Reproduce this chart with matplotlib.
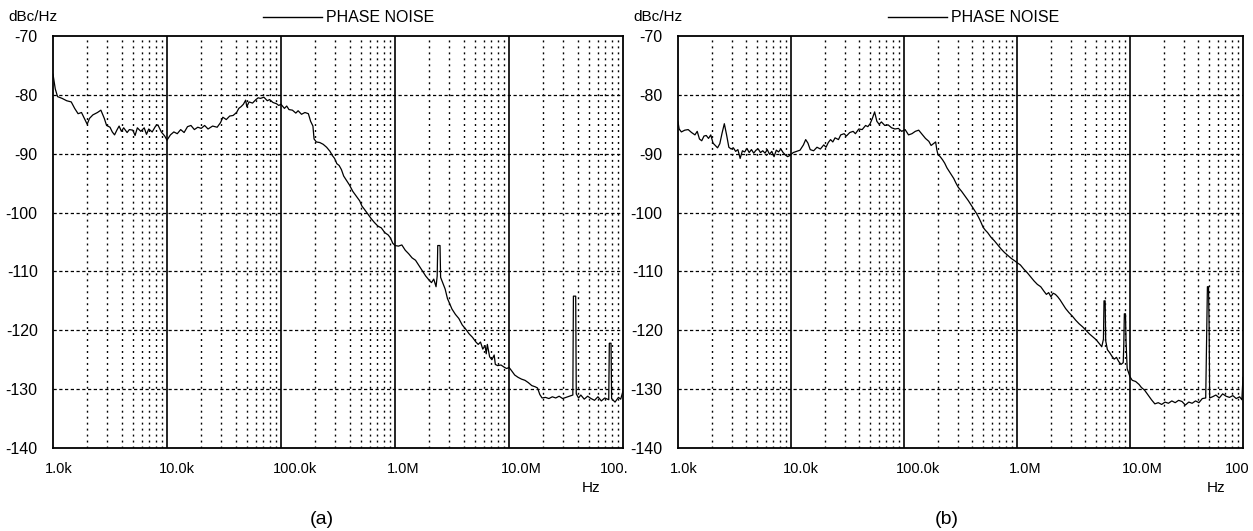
import numpy as np
import matplotlib.pyplot as plt
from matplotlib.lines import Line2D
from matplotlib.ticker import NullLocator
from matplotlib.transforms import offset_copy

plt.rcParams['font.family'] = ['Liberation Sans', 'DejaVu Sans']

# frequency as log10(Hz), noise in dBc/Hz
logf_a = [3.00, 3.02, 3.04, 3.08, 3.12, 3.16, 3.19, 3.22, 3.25, 3.28, 3.30, 3.32, 3.35, 3.39,
          3.42, 3.45, 3.47, 3.50, 3.52, 3.54, 3.56, 3.58, 3.60, 3.62, 3.65, 3.67, 3.70, 3.72,
          3.74, 3.77, 3.80, 3.82, 3.84, 3.87, 3.90, 3.92, 3.95, 3.98, 4.00, 4.03, 4.06, 4.09,
          4.12, 4.15, 4.18, 4.21, 4.24, 4.27, 4.30, 4.33, 4.36, 4.40, 4.44, 4.47, 4.49, 4.52,
          4.55, 4.58, 4.61, 4.63, 4.65, 4.67, 4.69, 4.70, 4.72, 4.75, 4.78, 4.80, 4.82, 4.85,
          4.88, 4.90, 4.93, 4.96, 4.98, 5.00, 5.03, 5.05, 5.07, 5.10, 5.13, 5.15, 5.18, 5.21,
          5.24, 5.26, 5.28, 5.29, 5.31, 5.34, 5.37, 5.40, 5.43, 5.45, 5.47, 5.49, 5.51, 5.53,
          5.55, 5.57, 5.60, 5.63, 5.66, 5.69, 5.71, 5.73, 5.76, 5.79, 5.82, 5.85, 5.88, 5.91,
          5.94, 5.96, 5.98, 6.00, 6.03, 6.06, 6.09, 6.12, 6.15, 6.18, 6.21, 6.24, 6.27, 6.30,
          6.32, 6.34, 6.36, 6.37, 6.375, 6.395, 6.40, 6.42, 6.44, 6.46, 6.48, 6.50, 6.53, 6.56,
          6.59, 6.62, 6.65, 6.68, 6.71, 6.73, 6.75, 6.77, 6.79, 6.80, 6.81, 6.83, 6.85, 6.87,
          6.88, 6.90, 6.93, 6.96, 6.98, 7.00, 7.02, 7.05, 7.08, 7.11, 7.14, 7.17, 7.20, 7.23,
          7.25, 7.27, 7.29, 7.32, 7.35, 7.38, 7.41, 7.44, 7.47, 7.50, 7.53, 7.56, 7.565, 7.585,
          7.59, 7.61, 7.63, 7.66, 7.69, 7.72, 7.75, 7.78, 7.81, 7.84, 7.875, 7.88, 7.895, 7.90,
          7.93, 7.96, 7.98, 8.00]
noise_a = [-76.5, -79.0, -80.3, -80.6, -81.0, -81.2, -82.3, -83.2, -83.0, -84.2, -85.0, -84.0,
           -83.4, -83.0, -82.6, -84.0, -85.2, -85.5, -86.3, -86.8, -86.0, -85.3, -86.2, -85.6,
           -86.4, -85.9, -86.0, -86.9, -85.6, -86.2, -85.6, -86.7, -85.8, -86.3, -85.3, -85.1,
           -86.3, -87.0, -87.7, -86.8, -86.3, -86.6, -85.9, -86.4, -85.4, -85.2, -85.9, -85.5,
           -85.7, -85.2, -85.8, -85.3, -85.5, -84.7, -83.8, -84.2, -83.6, -83.5, -83.0, -82.3,
           -82.0, -81.6, -80.9, -82.0, -81.2, -81.4, -80.8, -80.5, -80.6, -80.4, -81.0, -80.8,
           -81.3, -81.5, -81.8, -81.6, -82.3, -81.9, -82.5, -82.6, -83.1, -82.7, -83.3, -83.0,
           -83.2, -84.5, -85.3, -87.5, -88.0, -88.1, -88.4, -88.9, -89.6, -90.3, -90.8, -91.7,
           -92.0, -92.7, -93.8, -94.4, -95.3, -96.4, -97.2, -98.0, -98.9, -99.4, -100.2, -101.0,
           -101.7, -102.3, -102.6, -103.4, -103.8, -104.3, -105.2, -105.6, -105.7, -105.5, -106.4,
           -107.0, -107.7, -108.1, -109.0, -109.9, -110.8, -111.5, -111.9, -111.3, -112.6, -110.8,
           -105.6, -105.6, -111.0, -112.0, -113.0, -114.6, -115.5, -116.4, -117.3, -118.0, -119.1,
           -119.8, -120.6, -121.2, -122.0, -122.4, -122.0, -123.2, -122.6, -124.0, -122.4, -124.5,
           -125.0, -124.2, -125.8, -126.0, -125.9, -126.3, -126.5, -126.3, -126.8, -127.6, -128.0,
           -128.3, -128.5, -128.9, -129.4, -129.6, -129.8, -130.9, -131.5, -131.4, -131.6, -131.3,
           -131.5, -131.2, -131.6, -131.4, -131.2, -131.0, -114.2, -114.2, -130.8, -131.5, -131.0,
           -131.7, -131.2, -131.6, -131.9, -131.3, -132.0, -131.5, -131.8, -122.2, -122.2, -131.6,
           -132.2, -131.4, -131.7, -130.3]

logf_b = [3.00, 3.01, 3.03, 3.06, 3.09, 3.12, 3.15, 3.17, 3.19, 3.21, 3.23, 3.25, 3.27, 3.29,
          3.31, 3.33, 3.35, 3.37, 3.39, 3.41, 3.43, 3.45, 3.47, 3.49, 3.51, 3.53, 3.55, 3.57,
          3.59, 3.61, 3.63, 3.65, 3.67, 3.69, 3.71, 3.73, 3.75, 3.77, 3.79, 3.81, 3.83, 3.85,
          3.87, 3.89, 3.91, 3.93, 3.95, 3.97, 3.99, 4.02, 4.05, 4.08, 4.11, 4.13, 4.15, 4.17,
          4.20, 4.23, 4.26, 4.29, 4.31, 4.33, 4.35, 4.37, 4.39, 4.42, 4.44, 4.47, 4.49, 4.52,
          4.55, 4.57, 4.60, 4.63, 4.66, 4.68, 4.70, 4.72, 4.74, 4.76, 4.78, 4.80, 4.83, 4.86,
          4.89, 4.92, 4.95, 4.98, 5.01, 5.04, 5.07, 5.10, 5.13, 5.16, 5.19, 5.22, 5.24, 5.26,
          5.28, 5.29, 5.30, 5.32, 5.34, 5.36, 5.38, 5.40, 5.42, 5.44, 5.46, 5.48, 5.51, 5.54,
          5.57, 5.60, 5.62, 5.64, 5.66, 5.68, 5.70, 5.72, 5.74, 5.77, 5.80, 5.83, 5.86, 5.89,
          5.92, 5.95, 5.98, 6.00, 6.03, 6.06, 6.09, 6.12, 6.15, 6.18, 6.21, 6.24, 6.26, 6.28,
          6.30, 6.32, 6.34, 6.36, 6.38, 6.40, 6.43, 6.46, 6.49, 6.52, 6.55, 6.58, 6.61, 6.64,
          6.67, 6.70, 6.73, 6.75, 6.765, 6.77, 6.78, 6.785, 6.80, 6.82, 6.84, 6.86, 6.88, 6.90,
          6.92, 6.94, 6.945, 6.95, 6.96, 6.965, 6.975, 7.00, 7.02, 7.05, 7.08, 7.10, 7.13, 7.16,
          7.19, 7.22, 7.25, 7.28, 7.31, 7.34, 7.37, 7.40, 7.43, 7.46, 7.49, 7.52, 7.55, 7.58,
          7.61, 7.64, 7.67, 7.68, 7.685, 7.695, 7.70, 7.705, 7.73, 7.76, 7.79, 7.82, 7.85, 7.88,
          7.91, 7.94, 7.97, 7.99, 8.00]
noise_b = [-84.6, -85.8, -86.3, -86.0, -85.9, -86.4, -86.8, -86.2, -87.5, -87.8, -87.0, -86.9,
           -87.4, -86.8, -88.2, -88.6, -89.0, -88.3, -86.5, -84.9, -86.8, -88.9, -89.2, -89.0,
           -89.6, -89.3, -90.8, -89.5, -89.7, -89.1, -89.8, -89.3, -89.9, -89.4, -89.2, -89.8,
           -89.5, -89.9, -89.3, -90.1, -89.6, -90.5, -89.4, -89.7, -89.2, -89.8, -90.2, -90.5,
           -90.3, -89.8, -89.6, -89.4, -88.5, -87.6, -88.2, -89.3, -89.5, -88.9, -89.2, -88.5,
           -88.9, -88.1, -87.6, -88.0, -87.3, -87.6, -86.8, -86.6, -87.0, -86.4, -86.2, -86.6,
           -85.8, -85.9, -85.2, -85.4, -84.9, -84.0, -82.9, -84.5, -85.0, -84.6, -85.2, -85.1,
           -85.6, -85.8, -85.7, -86.2, -85.9, -86.8, -86.6, -86.2, -86.0, -86.7, -87.4, -87.9,
           -88.6, -88.3, -88.0, -89.3, -90.1, -90.5, -91.0, -91.6, -92.4, -93.0, -93.6, -94.2,
           -95.0, -95.7, -96.4, -97.2, -98.0, -98.9, -99.5, -100.1, -100.8, -101.6, -102.5, -103.0,
           -103.4, -104.2, -104.8, -105.5, -106.2, -106.8, -107.3, -107.8, -108.2, -108.5, -108.9,
           -109.6, -110.2, -110.9, -111.6, -112.2, -112.6, -113.4, -113.9, -113.6, -114.3, -113.7,
           -113.9, -114.3, -114.8, -115.4, -116.3, -117.0, -117.6, -118.3, -118.9, -119.4, -120.0,
           -120.6, -121.1, -121.6, -122.3, -122.8, -121.5, -115.0, -115.0, -121.8, -123.3, -123.8,
           -124.4, -124.9, -124.6, -125.3, -125.8, -125.5, -122.5, -117.2, -117.2, -122.0, -126.5,
           -127.9, -128.5, -128.7, -129.2, -129.7, -130.2, -131.0, -131.8, -132.5, -132.3, -132.6,
           -132.2, -132.4, -132.0, -132.3, -131.9, -132.1, -132.7, -132.2, -132.4, -132.0, -132.3,
           -131.6, -131.5, -119.0, -112.6, -112.6, -119.0, -131.5, -131.3, -131.0, -131.5, -130.8,
           -131.2, -131.4, -131.1, -131.6, -131.3, -131.8, -128.0]

decades = [1e3, 1e4, 1e5, 1e6, 1e7]
x_ticks = [1e3, 1e4, 1e5, 1e6, 1e7, 1e8]
x_labels_a = ['1.0k', '10.0k', '100.0k', '1.0M', '10.0M', '100.']
x_labels_b = ['1.0k', '10.0k', '100.0k', '1.0M', '10.0M', '100']
y_ticks = [-70, -80, -90, -100, -110, -120, -130, -140]

W, H = 1253, 531
fig = plt.figure(figsize=(W / 100, H / 100), dpi=100)


def panel(left, width, logf, noise, xlabels, last_shift, name):
    ax = fig.add_axes([left / W, 83 / H, width / W, 412 / H])
    ax.set_xscale('log')
    ax.set_xlim(1e3, 1e8)
    ax.set_ylim(-140, -70)
    for d in decades:
        for k in range(2, 10):
            ax.axvline(k * d, color='k', lw=1.0, ls=(0, (1.4, 2.9)))
        if d > 1e3:
            ax.axvline(d, color='k', lw=1.2)
    for y in y_ticks[1:-1]:
        ax.axhline(y, color='k', lw=0.9, ls=(0, (2.6, 2.0)))
    ax.plot(10 ** np.array(logf), noise, color='k', lw=0.9)

    ax.set_xticks([])
    ax.xaxis.set_minor_locator(NullLocator())
    ax.set_yticks(y_ticks)
    ax.set_yticklabels([str(v) for v in y_ticks], fontsize=11.5)
    ax.tick_params(axis='y', length=0, pad=11)
    for s in ax.spines.values():
        s.set_linewidth(1.3)

    for i, (t, lab) in enumerate(zip(x_ticks, xlabels)):
        dx = last_shift if i == len(x_ticks) - 1 else -8
        tr = offset_copy(ax.get_xaxis_transform(), fig=fig, x=dx, y=-21, units='dots')
        ax.text(t, 0, lab, transform=tr, ha='left', va='center', fontsize=10.5)

    fig.text((left - 45) / W, 1 - 17 / H, 'dBc/Hz', ha='left', va='center', fontsize=11)
    fig.add_artist(Line2D([(left + 210) / W, (left + 269) / W], [1 - 17 / H, 1 - 17 / H],
                          color='k', lw=1.0, transform=fig.transFigure))
    fig.text((left + 273) / W, 1 - 17 / H, 'PHASE NOISE', ha='left', va='center', fontsize=11.5)
    fig.text((left + 538) / W, 1 - 488 / H, 'Hz', ha='center', va='center', fontsize=11)
    fig.text((left + 269) / W, 1 - 519 / H, name, ha='center', va='center', fontsize=14)
    return ax


panel(53, 570, logf_a, noise_a, x_labels_a, -23, '(a)')
panel(678, 565, logf_b, noise_b, x_labels_b, -18, '(b)')

fig.savefig('out.png', dpi=100)
